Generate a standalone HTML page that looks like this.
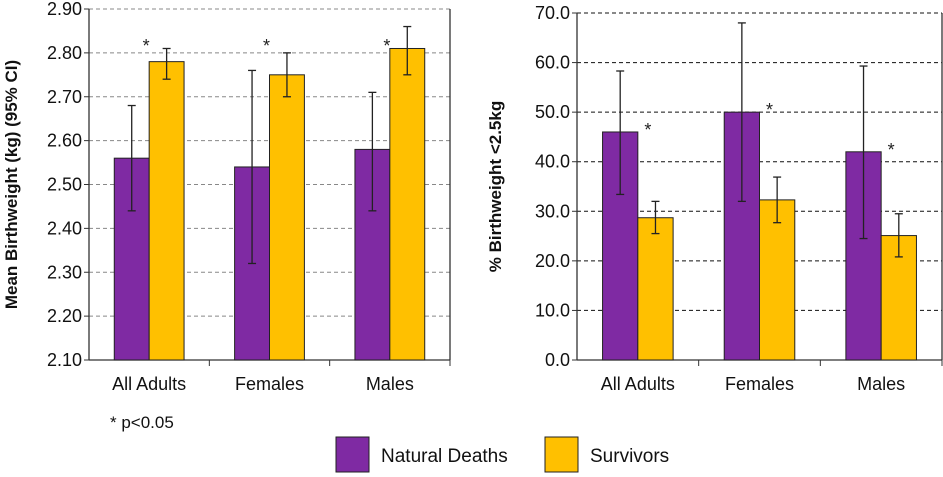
<!DOCTYPE html>
<html><head><meta charset="utf-8"><style>
body{margin:0;background:#fff;width:943px;height:477px;overflow:hidden;font-family:"Liberation Sans",sans-serif}
svg{display:block}
</style></head><body>
<svg id="c" width="943" height="477"></svg>
<script>
const categories=["All Adults","Females","Males"];
const meanNatural=[2.56,2.54,2.58];
const meanNaturalLo=[2.44,2.32,2.44];
const meanNaturalHi=[2.68,2.76,2.71];
const meanSurv=[2.78,2.75,2.81];
const meanSurvLo=[2.74,2.70,2.75];
const meanSurvHi=[2.81,2.80,2.86];
const leftTicks=[2.10,2.20,2.30,2.40,2.50,2.60,2.70,2.80,2.90];
const pctNatural=[46,50,42];
const pctNaturalLo=[33.4,32,24.5];
const pctNaturalHi=[58.3,68,59.3];
const pctSurv=[28.7,32.3,25.1];
const pctSurvLo=[25.5,27.7,20.8];
const pctSurvHi=[32,36.9,29.5];
const rightTicks=[0,10,20,30,40,50,60,70];
const NS="http://www.w3.org/2000/svg";
const svg=document.getElementById('c');
function mk(t,a,txt){const e=document.createElementNS(NS,t);for(const k in a)e.setAttribute(k,a[k]);if(txt!=null)e.textContent=txt;svg.appendChild(e);return e;}
function chart(o){
  const y=v=>o.y1-(v-o.min)/(o.max-o.min)*(o.y1-o.y0);
  const cw=(o.x1-o.x0)/categories.length;
  o.ticks.forEach(t=>{
    if(t!==o.min){const g=mk('line',{x1:o.x0,x2:o.x1,y1:y(t),y2:y(t),stroke:o.grid,'stroke-dasharray':'4,3','stroke-width':1});
    }
    const l=mk('text',{x:o.x0-7,y:y(t)+6,'text-anchor':'end','font-size':18,fill:'#111'},t.toFixed(o.dec));
    
    mk('line',{x1:o.x0-5,x2:o.x0,y1:y(t),y2:y(t),stroke:'#333'});
  });
  mk('line',{x1:o.x0,x2:o.x0,y1:o.y0,y2:o.y1,stroke:'#333','stroke-width':1.3});
  mk('line',{x1:o.x1,x2:o.x1,y1:o.y0,y2:o.y1,stroke:'#333','stroke-width':1.3});
  mk('line',{x1:o.x0,x2:o.x1,y1:o.y1,y2:o.y1,stroke:'#333','stroke-width':1.3});
  const bw=cw*0.29;
  categories.forEach((c,i)=>{
    const cx=o.x0+cw*(i+0.5);
    mk('line',{x1:o.x0+cw*(i+1),x2:o.x0+cw*(i+1),y1:o.y1,y2:o.y1+6,stroke:'#333'});
    [[o.a,o.aLo,o.aHi,'#7f2aa3',cx-bw,'bar-natural-deaths'],[o.b,o.bLo,o.bHi,'#ffc000',cx,'bar-survivors']].forEach(s=>{
      const r=mk('rect',{x:s[4],y:y(s[0][i]),width:bw,height:y(o.min)-y(s[0][i]),fill:s[3],stroke:'#222','stroke-width':1});
      
      const ex=s[4]+bw/2;
      const e=mk('line',{x1:ex,x2:ex,y1:y(s[2][i]),y2:y(s[1][i]),stroke:'#222','stroke-width':1.3});
      
      mk('line',{x1:ex-4,x2:ex+4,y1:y(s[2][i]),y2:y(s[2][i]),stroke:'#222','stroke-width':1.3});
      mk('line',{x1:ex-4,x2:ex+4,y1:y(s[1][i]),y2:y(s[1][i]),stroke:'#222','stroke-width':1.3});
    });
    const sv=Math.max(o.a[i],o.b[i]);
    const sy=o.starY!=null?o.starY:y(sv)-o.starDy;
    const st=mk('text',{x:cx+o.starDx,y:sy,'text-anchor':'middle','font-size':18,fill:'#222'},'*');
    
    const xl=mk('text',{x:cx,y:o.y1+30,'text-anchor':'middle','font-size':18,fill:'#111'},c);
    
  });
  const cy=(o.y0+o.y1)/2;
  const yt=mk('text',{x:o.titleX,y:cy,'text-anchor':'middle','font-size':17,'font-weight':'bold',fill:'#111',transform:`rotate(-90 ${o.titleX} ${cy})`},o.title);
  
}
chart({x0:89,x1:450,y0:9,y1:360,min:2.1,max:2.9,ticks:leftTicks,dec:2,grid:'#888',a:meanNatural,aLo:meanNaturalLo,aHi:meanNaturalHi,b:meanSurv,bLo:meanSurvLo,bHi:meanSurvHi,title:'Mean Birthweight (kg) (95% CI)',titleX:17,starDx:-3,starDy:0,starY:52});
chart({x0:577,x1:942,y0:13,y1:360,min:0,max:70,ticks:rightTicks,dec:1,grid:'#111',a:pctNatural,aLo:pctNaturalLo,aHi:pctNaturalHi,b:pctSurv,bLo:pctSurvLo,bHi:pctSurvHi,title:'% Birthweight <2.5kg',titleX:501,starDx:10,starDy:-4});
const p=mk('text',{x:110,y:428,'font-size':17,fill:'#111'},'* p<0.05');

const l1=mk('rect',{x:336,y:437,width:33,height:35,fill:'#7f2aa3',stroke:'#222'});

const t1=mk('text',{x:381,y:462,'font-size':19,fill:'#111'},'Natural Deaths');

const l2=mk('rect',{x:545,y:437,width:33,height:35,fill:'#ffc000',stroke:'#222'});

const t2=mk('text',{x:590,y:462,'font-size':19,fill:'#111'},'Survivors');

</script>
</body></html>
